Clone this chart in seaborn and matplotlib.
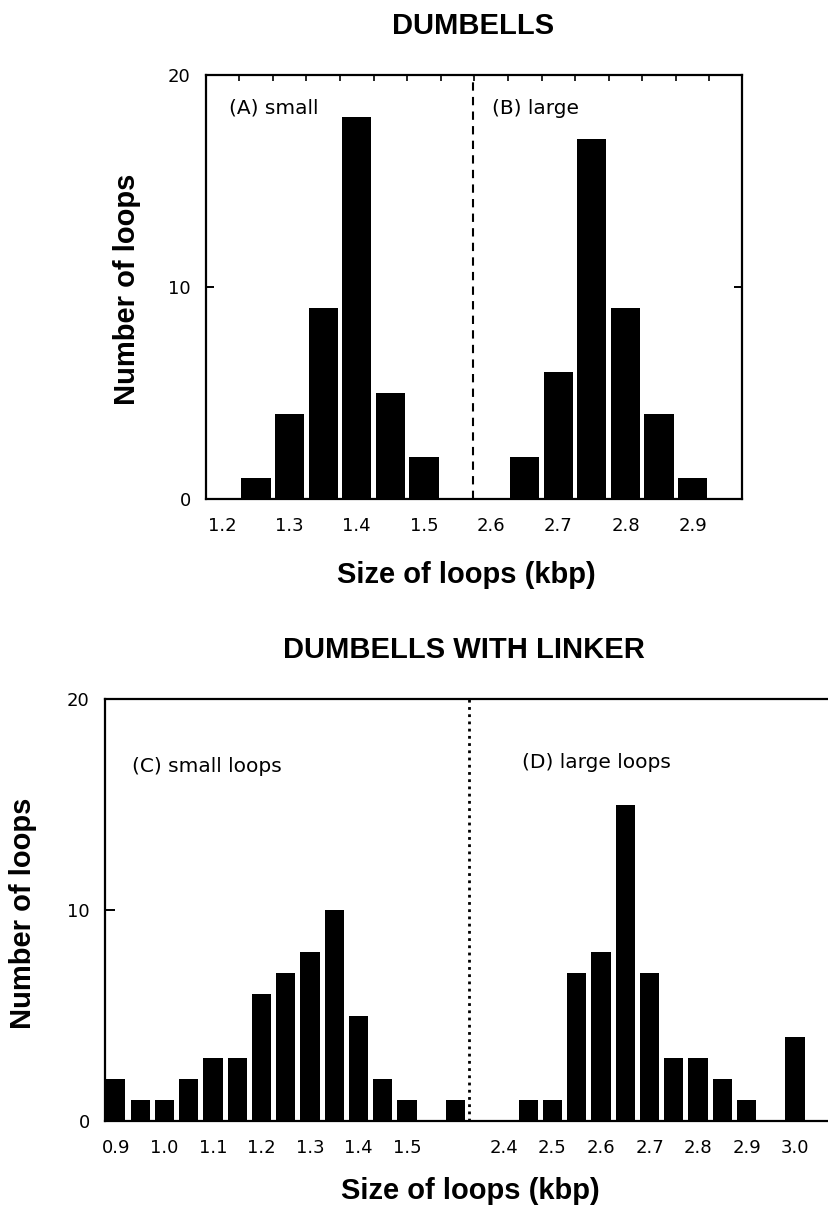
import numpy as np
import pandas as pd
import matplotlib
matplotlib.use("Agg")
import matplotlib.pyplot as plt
from matplotlib.ticker import FixedLocator
import seaborn as sns

# ---------------- data ----------------
top_small_bins = ["1.20", "1.25", "1.30", "1.35", "1.40", "1.45", "1.50"]
top_small_counts = [0, 1, 4, 9, 18, 5, 2]
top_large_bins = ["2.60", "2.65", "2.70", "2.75", "2.80", "2.85", "2.90", "2.95"]
top_large_counts = [0, 2, 6, 17, 9, 4, 1, 0]
top_tick_labels = ["1.2", "1.3", "1.4", "1.5", "2.6", "2.7", "2.8", "2.9"]

bot_small_bins = ["0.90", "0.95", "1.00", "1.05", "1.10", "1.15", "1.20", "1.25",
                  "1.30", "1.35", "1.40", "1.45", "1.50", "1.55", "1.60"]
bot_small_counts = [2, 1, 1, 2, 3, 3, 6, 7, 8, 10, 5, 2, 1, 0, 1]
bot_large_bins = ["2.40", "2.45", "2.50", "2.55", "2.60", "2.65", "2.70", "2.75",
                  "2.80", "2.85", "2.90", "2.95", "3.00", "3.05"]
bot_large_counts = [0, 1, 1, 7, 8, 15, 7, 3, 3, 2, 1, 0, 4, 0]
bot_tick_labels = ["0.9", "1.0", "1.1", "1.2", "1.3", "1.4", "1.5",
                   "2.4", "2.5", "2.6", "2.7", "2.8", "2.9", "3.0"]

GAP = "|"
top_order = top_small_bins + [GAP] + top_large_bins
bot_order = bot_small_bins + [GAP] + bot_large_bins

top_df = pd.DataFrame({"bin": top_small_bins + top_large_bins,
                       "count": top_small_counts + top_large_counts})
bot_df = pd.DataFrame({"bin": bot_small_bins + bot_large_bins,
                       "count": bot_small_counts + bot_large_counts})

# ---------------- style ----------------
sns.set_theme(style="ticks", rc={
    "axes.edgecolor": "black",
    "axes.labelcolor": "black",
    "text.color": "black",
    "xtick.color": "black",
    "ytick.color": "black",
})
plt.rcParams["font.family"] = ["DejaVu Sans"]
plt.rcParams["axes.linewidth"] = 1.6

W, H = 829, 1210
fig = plt.figure(figsize=(W / 100, H / 100), dpi=100)


def fx(px):
    return px / W


def fy(py):
    return 1 - py / H


BOLD = dict(family=["Liberation Sans", "DejaVu Sans"], fontweight="bold",
            fontsize=21, color="black")
ANN = dict(family=["DejaVu Sans"], fontsize=14.5, color="black")
TICKFONT = 13

# ---------------- top panel ----------------
ax1 = fig.add_axes([fx(206), fy(499), fx(742) - fx(206), fy(75) - fy(499)])
sns.barplot(data=top_df, x="bin", y="count", order=top_order, color="black",
            saturation=1, width=0.87, linewidth=0, ax=ax1)
ax1.set_xlim(-0.49, 15.47)
ax1.set_ylim(0, 20)
ax1.axvline(7.46, color="black", lw=1.5, ls=(0, (4, 3)))
ax1.set_xticks([top_order.index(f"{float(t):.2f}") for t in top_tick_labels])
ax1.set_xticklabels(top_tick_labels, fontsize=TICKFONT, color="black")
ax1.xaxis.set_minor_locator(FixedLocator(np.arange(0.5, 15, 1.0)))
ax1.tick_params(axis="x", which="major", length=0, pad=13)
ax1.tick_params(axis="x", which="minor", top=True, bottom=False, direction="in",
                length=4, width=1.2)
ax1.set_yticks([0, 10, 20])
ax1.set_yticklabels(["0", "10", "20"], fontsize=TICKFONT, color="black")
ax1.tick_params(axis="y", which="major", direction="in", left=True, right=True,
                length=6, width=1.4, pad=11)
ax1.set_xlabel("")
ax1.set_ylabel("")
for s in ax1.spines.values():
    s.set_visible(True)
    s.set_color("black")

# ---------------- bottom panel ----------------
ax2 = fig.add_axes([fx(105), fy(1121), 1 - fx(105), fy(699) - fy(1121)])
sns.barplot(data=bot_df, x="bin", y="count", order=bot_order, color="black",
            saturation=1, width=0.79, linewidth=0, ax=ax2)
ax2.set_xlim(-0.45, 29.40)
ax2.set_ylim(0, 20)
ax2.axvline(14.56, color="black", lw=2.0, ls=(0, (1, 1.6)))
ax2.set_xticks([bot_order.index(f"{float(t):.2f}") for t in bot_tick_labels])
ax2.set_xticklabels(bot_tick_labels, fontsize=TICKFONT, color="black")
ax2.tick_params(axis="x", which="major", length=0, pad=13)
ax2.set_yticks([0, 10, 20])
ax2.set_yticklabels(["0", "10", "20"], fontsize=TICKFONT, color="black")
ax2.tick_params(axis="y", which="major", direction="in", left=True, right=False,
                length=7, width=1.4, pad=11)
ax2.set_xlabel("")
ax2.set_ylabel("")
ax2.spines["right"].set_visible(False)
ax2.spines["top"].set_visible(True)
for s in ax2.spines.values():
    s.set_color("black")

# ---------------- texts ----------------
fig.text(fx(473.5), fy(33.5), "DUMBELLS", ha="center", va="baseline", **BOLD)
fig.text(fx(466), fy(583), "Size of loops (kbp)", ha="center", va="baseline", **BOLD)
fig.text(fx(127), fy(289), "Number of loops", ha="center", va="center",
         rotation=90, **BOLD)
fig.text(fx(464), fy(658), "DUMBELLS WITH LINKER", ha="center", va="baseline", **BOLD)
fig.text(fx(470), fy(1199), "Size of loops (kbp)", ha="center", va="baseline", **BOLD)
fig.text(fx(23), fy(913), "Number of loops", ha="center", va="center",
         rotation=90, **BOLD)

fig.text(fx(229), fy(108), "(A) small", ha="left", va="center", **ANN)
fig.text(fx(492), fy(108), "(B) large", ha="left", va="center", **ANN)
fig.text(fx(132), fy(766), "(C) small loops", ha="left", va="center", **ANN)
fig.text(fx(522), fy(762), "(D) large loops", ha="left", va="center", **ANN)

fig.savefig("out.png", dpi=100, facecolor="white")
